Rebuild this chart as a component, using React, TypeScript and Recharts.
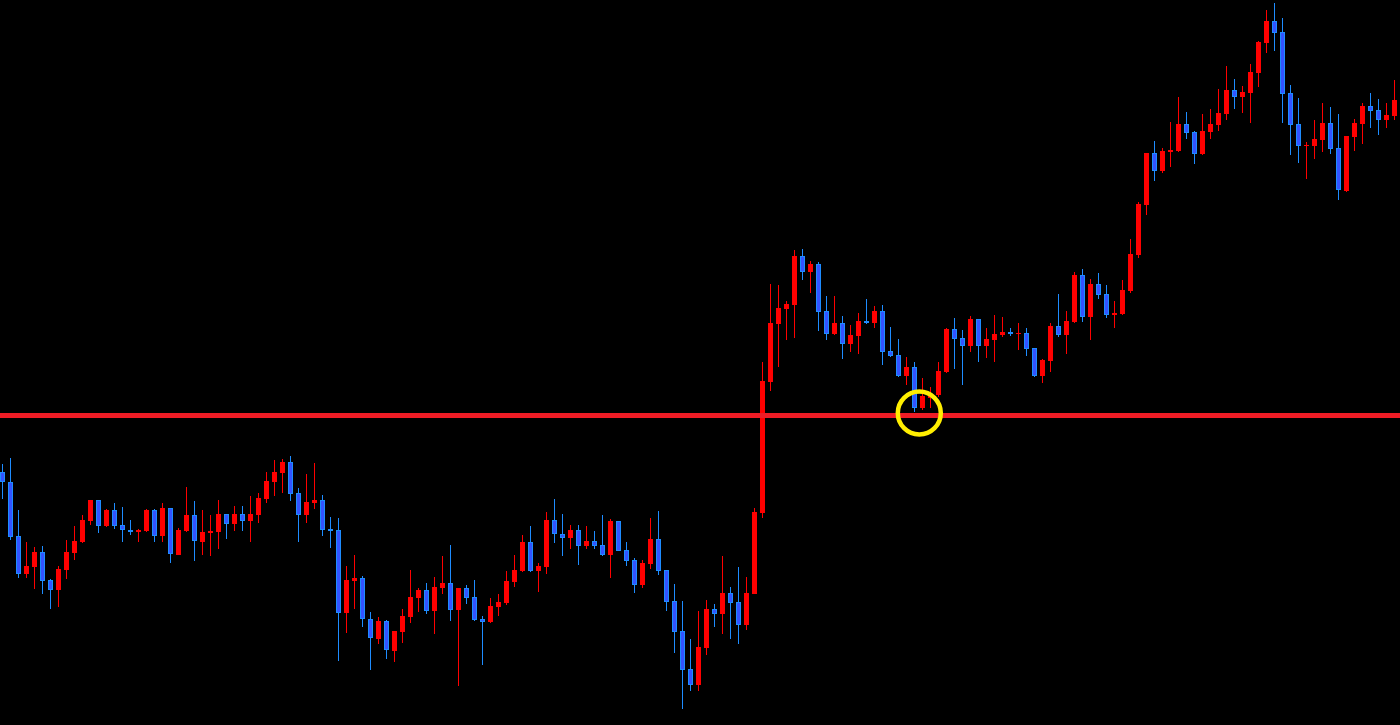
import React from 'react';
import { ComposedChart, Bar, XAxis, YAxis, ReferenceLine, ReferenceDot } from 'recharts';

const openV = [
  253, 243, 189, 151, 158, 173, 145, 135, 155, 172, 183, 204, 225, 199, 215, 200, 195, 193, 194, 215,
  189, 217, 170, 194, 210, 183, 192, 193, 211, 201, 211, 204, 210, 226, 243, 252, 263, 232, 210, 222,
  225, 196, 195, 112, 144, 147, 106, 86, 104, 74, 93, 108, 127, 135, 114, 137, 142, 115, 137, 128,
  106, 103, 118, 122, 143, 154, 183, 154, 158, 205, 191, 187, 195, 179, 184, 180, 170, 204, 175, 165,
  140, 161, 186, 155, 124, 94, 56, 40, 77, 116, 111, 132, 123, 100, 131, 212, 343, 401, 416, 420,
  469, 453, 461, 414, 391, 402, 381, 389, 404, 402, 414, 374, 370, 349, 358, 317, 327, 330, 353, 396,
  387, 379, 406, 379, 385, 390, 393, 391, 392, 377, 349, 364, 399, 390, 403, 450, 408, 441, 431, 410,
  411, 434, 470, 520, 572, 554, 573, 574, 601, 593, 571, 593, 600, 611, 635, 628, 632, 652, 682, 704,
  693, 632, 601, 579, 579, 585, 602, 577, 534, 588, 601, 619, 615, 605, 609,
];
const highV = [
  261, 267, 215, 183, 178, 179, 146, 159, 185, 199, 210, 225, 225, 216, 222, 218, 205, 196, 216, 216,
  222, 217, 197, 238, 224, 215, 210, 225, 211, 219, 219, 229, 232, 253, 265, 266, 269, 237, 251, 262,
  230, 208, 207, 159, 170, 149, 113, 108, 105, 94, 116, 155, 137, 142, 148, 169, 180, 137, 140, 145,
  109, 127, 131, 154, 170, 190, 199, 162, 213, 226, 211, 200, 200, 199, 194, 210, 206, 204, 183, 167,
  165, 207, 214, 155, 141, 124, 86, 114, 125, 121, 169, 138, 158, 148, 217, 363, 441, 440, 424, 475,
  476, 464, 463, 429, 429, 409, 400, 412, 426, 419, 420, 398, 386, 368, 363, 347, 338, 363, 397, 407,
  395, 409, 406, 397, 410, 408, 397, 402, 397, 377, 366, 402, 431, 414, 453, 456, 446, 452, 440, 424,
  445, 486, 523, 572, 584, 577, 603, 628, 613, 594, 611, 616, 636, 659, 646, 639, 661, 684, 715, 722,
  707, 640, 627, 583, 605, 622, 618, 611, 589, 606, 622, 632, 626, 622, 645,
];
const lowV = [
  226, 185, 147, 147, 136, 131, 116, 118, 146, 165, 182, 200, 192, 198, 196, 183, 190, 183, 193, 183,
  183, 162, 170, 193, 164, 170, 169, 176, 186, 194, 194, 183, 202, 222, 229, 232, 224, 183, 202, 216,
  189, 177, 64, 92, 116, 98, 55, 81, 66, 63, 82, 102, 113, 111, 91, 131, 104, 39, 121, 104,
  60, 102, 109, 120, 138, 153, 153, 133, 151, 182, 169, 176, 160, 176, 176, 169, 147, 174, 159, 132,
  137, 156, 150, 114, 72, 16, 34, 34, 70, 98, 91, 86, 81, 95, 131, 207, 334, 358, 385, 387,
  445, 432, 394, 385, 390, 366, 373, 371, 401, 397, 360, 368, 348, 340, 313, 315, 317, 328, 352, 356,
  340, 373, 363, 367, 363, 388, 389, 375, 369, 348, 342, 353, 388, 371, 402, 403, 385, 426, 407, 397,
  410, 432, 467, 510, 544, 552, 558, 573, 586, 561, 570, 586, 594, 605, 616, 612, 602, 638, 672, 674,
  602, 570, 562, 546, 566, 573, 571, 525, 533, 574, 581, 597, 590, 597, 605,
];
const closeV = [
  243, 188, 151, 159, 173, 144, 135, 156, 173, 184, 205, 225, 199, 215, 199, 195, 193, 195, 215, 189,
  217, 171, 195, 210, 184, 193, 194, 211, 201, 211, 204, 211, 227, 244, 253, 263, 231, 210, 223, 225,
  195, 194, 112, 145, 147, 106, 87, 104, 75, 94, 109, 128, 135, 114, 138, 142, 115, 137, 127, 105,
  103, 119, 123, 144, 155, 183, 154, 159, 205, 191, 187, 195, 179, 184, 179, 170, 204, 174, 164, 140,
  162, 186, 154, 123, 93, 55, 40, 78, 116, 111, 132, 122, 100, 132, 213, 344, 402, 417, 421, 469,
  453, 461, 413, 391, 402, 381, 390, 404, 402, 414, 373, 369, 349, 358, 317, 329, 330, 354, 396, 386,
  379, 406, 379, 386, 391, 393, 391, 392, 376, 349, 365, 399, 390, 404, 450, 408, 441, 430, 410, 412,
  435, 471, 521, 572, 554, 574, 575, 601, 592, 571, 594, 601, 612, 635, 628, 633, 653, 683, 704, 692,
  631, 600, 579, 580, 586, 602, 576, 535, 589, 602, 619, 614, 605, 610, 625,
];

const supportLevel = 309.5;
const markerIndex = 114.6;
const markerValue = 312;

const data = openV.map((o, i) => ({
  i,
  open: o,
  high: highV[i],
  low: lowV[i],
  close: closeV[i],
  range: [lowV[i], highV[i]],
}));

const UP = '#ff0000';
const DOWN_FILL = '#3353ff';
const DOWN_EDGE = '#1e8cff';

const Candle = (props: any) => {
  const { x, y, width, height, payload } = props;
  if (x == null || y == null || !payload) return null;
  const { open, close, high, low } = payload;
  const top = Math.min(y, y + height);
  const h = Math.abs(height);
  const py = (v: number) => (high === low ? top : top + ((high - v) / (high - low)) * h);
  const cx = Math.floor(x + width / 2) + 0.5;
  const up = close >= open;
  const bTop = Math.round(py(Math.max(open, close)));
  const bBot = Math.round(py(Math.min(open, close)));
  const bh = Math.max(1, bBot - bTop);
  const bw = 5;
  const bx = cx - 2.5;
  const wTop = Math.round(top);
  const wBot = Math.round(top + h);
  if (up) {
    return (
      <g shapeRendering="crispEdges">
        <rect x={cx - 0.5} y={wTop} width={1} height={wBot - wTop} fill={UP} />
        <rect x={bx} y={bTop} width={bw} height={bh} fill={UP} />
      </g>
    );
  }
  return (
    <g shapeRendering="crispEdges">
      <rect x={cx - 0.5} y={wTop} width={1} height={wBot - wTop} fill={DOWN_EDGE} />
      <rect x={bx} y={bTop} width={bw} height={bh} fill={DOWN_EDGE} />
      {bh > 2 && <rect x={bx + 1} y={bTop + 1} width={bw - 2} height={bh - 2} fill={DOWN_FILL} />}
    </g>
  );
};

export default function App() {
  return (
    <div style={{ position: 'absolute', left: 0, top: 0, width: 1400, height: 725, background: '#000', overflow: 'hidden' }}>
      <ComposedChart width={1400} height={725} data={data} margin={{ top: 0, right: 0, bottom: 0, left: 0 }}>
        <XAxis dataKey="i" type="number" domain={[-0.3125, 174.6875]} hide allowDataOverflow />
        <YAxis type="number" domain={[0, 725]} hide allowDataOverflow />
        <Bar dataKey="range" barSize={5} shape={<Candle />} isAnimationActive={false} />
        <ReferenceLine y={supportLevel} stroke="#ee1c25" strokeWidth={5} />
        <ReferenceDot x={markerIndex} y={markerValue} r={21.5} fill="none" stroke="#ffee00" strokeWidth={4.5} />
      </ComposedChart>
    </div>
  );
}
